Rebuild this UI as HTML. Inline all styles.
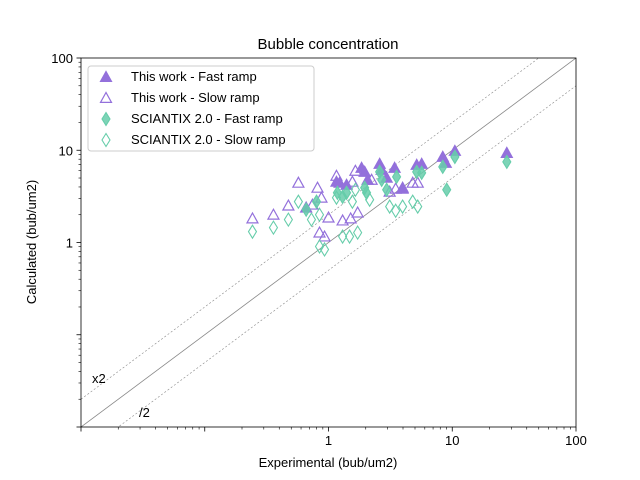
<!DOCTYPE html>
<html><head><meta charset="utf-8"><style>
body{margin:0;background:#fff;}
svg{display:block;font-family:"Liberation Sans","DejaVu Sans",sans-serif;}
</style></head><body>
<svg id="chart" width="640" height="480">
<rect width="640" height="480" fill="#fff"/>
<text x="328" y="49" font-size="15" text-anchor="middle">Bubble concentration</text>
<g id="grid"></g>
<g id="marks"></g>
<rect x="81" y="58" width="495" height="369" fill="none" stroke="#000" stroke-width="0.8"/>
<g id="ticks"></g>
<text x="328" y="467" font-size="13" text-anchor="middle">Experimental (bub/um2)</text>
<text transform="translate(36,242) rotate(-90)" font-size="13" text-anchor="middle">Calculated (bub/um2)</text>
<text x="92" y="383" font-size="13">x2</text>
<text x="139" y="417" font-size="13">/2</text>
<g>
<rect x="88" y="66" width="226" height="85" rx="3" fill="#fff" fill-opacity="0.8" stroke="#ccc"/>
<g id="legend"></g>
</g>
</svg>
<script>
const xDomain=[0.01,100];
const yDomain=[0.01,100];
const tickValues=[0.01,0.1,1,10,100];
const tickLabels=["","","1","10","100"];
const fastX=[0.66,1.16,1.23,1.40,1.85,1.96,2.07,2.59,2.69,2.95,3.42,3.97,5.16,5.66,8.38,8.86,10.5,27.6];
const fastY=[2.39,4.55,4.44,4.22,6.44,5.83,4.78,7.11,6.13,5.03,6.44,3.92,6.94,7.11,8.47,7.29,9.83,9.35];
const slowX=[0.243,0.359,0.474,0.571,0.815,0.742,0.877,1.0,1.16,1.30,1.51,1.72,1.56,1.65,0.846,0.929,2.23,3.12,3.49,3.97,4.79,5.26];
const slowY=[1.82,2.0,2.51,4.44,3.92,2.57,3.06,1.86,5.28,1.73,1.82,2.11,4.55,5.98,1.28,1.16,4.78,3.55,3.83,3.83,4.44,4.44];
const sFastX=[0.66,0.80,1.18,1.30,1.40,1.96,2.03,2.59,2.69,2.95,3.55,5.16,5.66,8.38,9.02,10.5,27.6];
const sFastY=[2.27,2.77,3.46,3.13,3.46,3.92,3.46,5.83,4.78,3.73,5.15,5.83,5.69,6.61,3.73,8.47,7.48];
const sSlowX=[0.243,0.359,0.474,0.571,0.728,0.846,0.846,0.929,1.30,1.48,1.72,1.16,1.56,1.65,2.15,3.12,3.49,3.97,4.79,5.26];
const sSlowY=[1.31,1.45,1.77,2.77,1.77,2.0,0.905,0.84,1.16,1.16,1.28,3.06,2.77,3.73,2.91,2.45,2.21,2.45,2.77,2.45];

const L=81,R=576,T=58,B=427;
const NS="http://www.w3.org/2000/svg";
function sx(v){return L+(Math.log10(v)-Math.log10(xDomain[0]))/(Math.log10(xDomain[1])-Math.log10(xDomain[0]))*(R-L);}
function sy(v){return B-(Math.log10(v)-Math.log10(yDomain[0]))/(Math.log10(yDomain[1])-Math.log10(yDomain[0]))*(B-T);}
function mk(tag,attrs,parent){const e=document.createElementNS(NS,tag);for(const k in attrs)e.setAttribute(k,attrs[k]);parent.appendChild(e);return e;}
const grid=document.getElementById('grid'),marks=document.getElementById('marks'),ticks=document.getElementById('ticks'),legend=document.getElementById('legend');
const PURPLE="#9370DB",TEAL="#66CDAA";
// reference lines
[[1,"#888","none","identity-line"],[2,"#888","2,2","x2-line"],[0.5,"#888","2,2","half-line"]].forEach(([f,c,d,n])=>{
  const x0=xDomain[0],x1=xDomain[1];
  const l=mk('line',{x1:sx(x0),y1:sy(x0*f),x2:sx(x1),y2:sy(x1*f),stroke:c,'stroke-width':f===1?0.8:0.6,'stroke-dasharray':d},grid);
  
  
});
const clip=mk('clipPath',{id:'pc'},grid);mk('rect',{x:L,y:T,width:R-L,height:B-T},clip);
grid.setAttribute('clip-path','url(#pc)');
function tri(x,y,filled,col,parent){
  const s=5.5;
  return mk('polygon',{points:`${x},${y-s} ${x-s},${y+s*0.8} ${x+s},${y+s*0.8}`,fill:filled?col:'none',stroke:col,'stroke-width':1.2},parent);
}
function dia(x,y,filled,col,parent){
  const w=4,h=6.5;
  return mk('polygon',{points:`${x},${y-h} ${x+w},${y} ${x},${y+h} ${x-w},${y}`,fill:filled?col:'none','fill-opacity':filled?0.85:1,stroke:col,'stroke-width':1.1},parent);
}
const series=[[fastX,fastY,tri,true,PURPLE,"this-work-fast-point","This work - Fast ramp"],
[slowX,slowY,tri,false,PURPLE,"this-work-slow-point","This work - Slow ramp"],
[sFastX,sFastY,dia,true,TEAL,"sciantix-fast-point","SCIANTIX 2.0 - Fast ramp"],
[sSlowX,sSlowY,dia,false,TEAL,"sciantix-slow-point","SCIANTIX 2.0 - Slow ramp"]];
series.forEach(([xs,ys,f,fill,col,name,label],si)=>{
  xs.forEach((v,i)=>{
    const e=f(sx(v),sy(ys[i]),fill,col,marks);
    
    
  });
  const yy=76+si*21;
  const m=f(106,yy+1,fill,col,legend);
  
  
  const t=mk('text',{x:131,y:yy+5,'font-size':13},legend);t.textContent=label;
  
  
});
// ticks
for(let d=-2;d<2;d++){for(let k=2;k<10;k++){const v=k*Math.pow(10,d);
  const a=mk('line',{x1:sx(v),y1:B,x2:sx(v),y2:B+2.5,stroke:'#000','stroke-width':0.6},ticks);
  
  
  const b=mk('line',{x1:L,y1:sy(v),x2:L-2.5,y2:sy(v),stroke:'#000','stroke-width':0.6},ticks);
  
  
}}
tickValues.forEach((v,i)=>{
  const a=mk('line',{x1:sx(v),y1:B,x2:sx(v),y2:B+4.5,stroke:'#000','stroke-width':0.8},ticks);
  
  
  const b=mk('line',{x1:L,y1:sy(v),x2:L-4.5,y2:sy(v),stroke:'#000','stroke-width':0.8},ticks);
  
  
  if(tickLabels[i]){
    const tx=mk('text',{x:sx(v),y:B+18,'font-size':13,'text-anchor':'middle'},ticks);tx.textContent=tickLabels[i];
    
    
    const ty=mk('text',{x:L-8,y:sy(v)+5,'font-size':13,'text-anchor':'end'},ticks);ty.textContent=tickLabels[i];
    
    
  }
});
</script>
</body></html>
